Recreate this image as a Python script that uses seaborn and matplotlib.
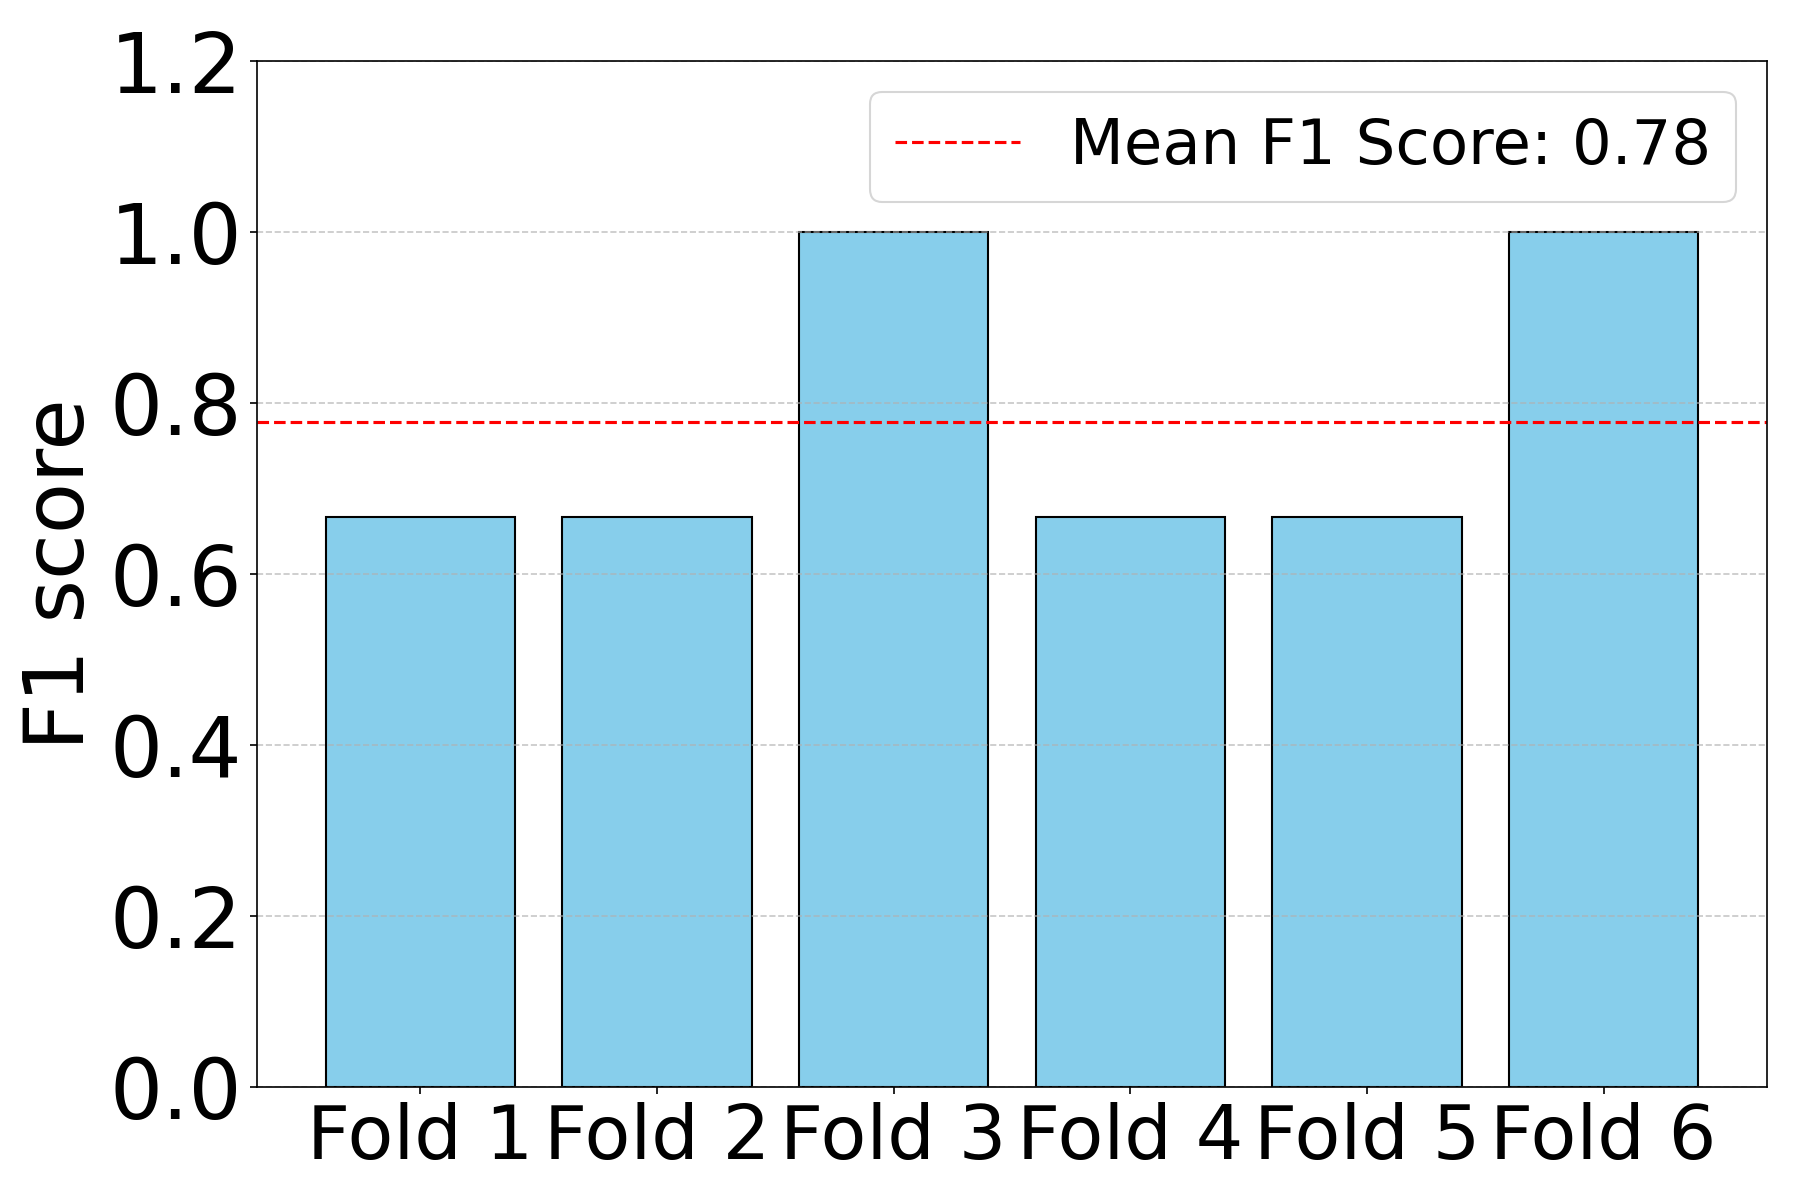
import numpy as np
import pandas as pd
import seaborn as sns
import matplotlib.pyplot as plt

folds = ['Fold 1', 'Fold 2', 'Fold 3', 'Fold 4', 'Fold 5', 'Fold 6']
f1_scores = [0.6667, 0.6667, 1.0, 0.6667, 0.6667, 1.0]
mean_f1 = np.mean(f1_scores)

df = pd.DataFrame({'Fold': folds, 'F1': f1_scores})

fig = plt.figure(figsize=(1793 / 150, 8), dpi=150)
ax = fig.add_axes([0.1433, 0.0942, 0.8422, 0.8552])

sns.barplot(data=df, x='Fold', y='F1', color='skyblue', saturation=1,
            edgecolor='black', linewidth=1, width=0.8, errorbar=None, ax=ax)
ax.axhline(mean_f1, color='red', linestyle='--', linewidth=1.5,
           label='Mean F1 Score: {:.2f}'.format(mean_f1))

ax.set_xlim(-0.69, 5.69)
ax.set_ylim(0, 1.2)
ax.set_yticks(np.arange(0, 1.21, 0.2))
ax.yaxis.grid(True, linestyle='--', alpha=0.7)
ax.set_xlabel('')
ax.set_ylabel('F1 score', fontsize=40)
ax.tick_params(axis='y', labelsize=40)
ax.tick_params(axis='x', labelsize=36)
ax.legend(loc='upper right', fontsize=30)

fig.savefig('out.png', dpi=150)
